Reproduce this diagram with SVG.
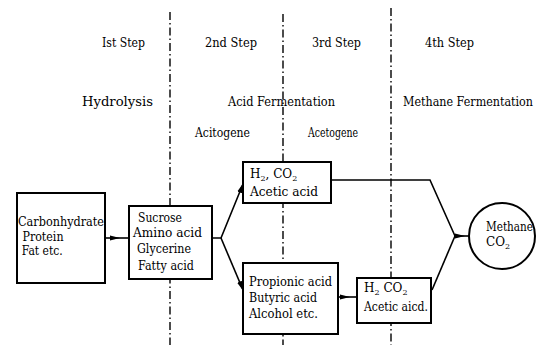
<svg xmlns="http://www.w3.org/2000/svg" width="550" height="345" viewBox="0 0 550 345">
<style>
text{font-family:"DejaVu Serif","Liberation Serif",serif;font-size:12px;fill:#000}
.sub{font-size:8px}
.div{stroke:#000;stroke-width:1.4;stroke-dasharray:8 3 1.5 3;fill:none}
.box{fill:#fff;stroke:#000;stroke-width:2}
.con{fill:none;stroke:#000;stroke-width:1.6}
</style>
<defs>
<marker id="ah" markerUnits="userSpaceOnUse" markerWidth="10" markerHeight="6" refX="9" refY="3" orient="auto">
<path d="M0,0.5 L10,3 L0,5.5 z" fill="#000"/>
</marker>
</defs>
<rect width="550" height="345" fill="#fff"/>
<g id="dividers">
<line class="div" x1="170" y1="12" x2="170" y2="345"/>
<line class="div" x1="283" y1="14" x2="283" y2="345"/>
<line class="div" x1="391" y1="8" x2="391" y2="345"/>
</g>
<g id="labels">
<text x="102" y="47" textLength="43" lengthAdjust="spacingAndGlyphs">Ist Step</text>
<text x="205" y="47" textLength="52" lengthAdjust="spacingAndGlyphs">2nd Step</text>
<text x="312" y="47" textLength="49" lengthAdjust="spacingAndGlyphs">3rd Step</text>
<text x="425" y="47" textLength="49" lengthAdjust="spacingAndGlyphs">4th Step</text>
<text x="82" y="106" textLength="71" lengthAdjust="spacingAndGlyphs">Hydrolysis</text>
<text x="228" y="106" textLength="107" lengthAdjust="spacingAndGlyphs">Acid Fermentation</text>
<text x="403" y="106" textLength="130" lengthAdjust="spacingAndGlyphs">Methane Fermentation</text>
<text x="195" y="137" textLength="55" lengthAdjust="spacingAndGlyphs">Acitogene</text>
<text x="308" y="137" textLength="50" lengthAdjust="spacingAndGlyphs">Acetogene</text>
</g>
<g id="connectors">
<path class="con" d="M105,238 L119,238 L129,238" marker-mid="url(#ah)"/>
<path class="con" d="M212,238 L221,238 L243,184" marker-end="url(#ah)"/>
<path class="con" d="M221,238 L243,290" marker-end="url(#ah)"/>
<path class="con" d="M338,297 L349,297 L357,297" marker-mid="url(#ah)"/>
<path class="con" d="M331,180 L430,180 L455,236"/>
<path class="con" d="M432,290 L455,236"/>
<path class="con" d="M455,236 L464,236 L469,236" marker-mid="url(#ah)"/>
</g>
<g id="n1">
<rect class="box" x="17" y="193" width="88" height="90"/>
<text x="18" y="226" textLength="86" lengthAdjust="spacingAndGlyphs">Carbonhydrate</text>
<text x="22.5" y="241" textLength="41" lengthAdjust="spacingAndGlyphs">Protein</text>
<text x="21.7" y="255" textLength="41" lengthAdjust="spacingAndGlyphs">Fat etc.</text>
</g>
<g id="n2">
<rect class="box" x="129" y="206" width="83" height="73"/>
<text x="138" y="222" textLength="44" lengthAdjust="spacingAndGlyphs">Sucrose</text>
<text x="133" y="237" textLength="69" lengthAdjust="spacingAndGlyphs">Amino acid</text>
<text x="137" y="253" textLength="54" lengthAdjust="spacingAndGlyphs">Glycerine</text>
<text x="138" y="270" textLength="56" lengthAdjust="spacingAndGlyphs">Fatty acid</text>
</g>
<g id="n3">
<rect class="box" x="243" y="162" width="88" height="41"/>
<text x="250" y="178">H<tspan class="sub" dy="3">2</tspan><tspan dy="-3">, CO</tspan><tspan class="sub" dy="3">2</tspan></text>
<text x="250" y="196" textLength="68" lengthAdjust="spacingAndGlyphs">Acetic acid</text>
</g>
<g id="n4">
<rect class="box" x="243" y="263" width="95" height="71"/>
<text x="249" y="286" textLength="83" lengthAdjust="spacingAndGlyphs">Propionic acid</text>
<text x="249" y="302" textLength="68" lengthAdjust="spacingAndGlyphs">Butyric acid</text>
<text x="249" y="318" textLength="69" lengthAdjust="spacingAndGlyphs">Alcohol etc.</text>
</g>
<g id="n5">
<rect class="box" x="357" y="278" width="74" height="45"/>
<text x="364" y="292">H<tspan class="sub" dy="3">2</tspan><tspan dy="-3"> CO</tspan><tspan class="sub" dy="3">2</tspan></text>
<text x="364" y="311" textLength="64" lengthAdjust="spacingAndGlyphs">Acetic aicd.</text>
</g>
<g id="n6">
<circle class="box" cx="502" cy="236" r="33"/>
<text x="486" y="231" textLength="47" lengthAdjust="spacingAndGlyphs">Methane</text>
<text x="486" y="246">CO<tspan class="sub" dy="3">2</tspan></text>
</g>
</svg>
